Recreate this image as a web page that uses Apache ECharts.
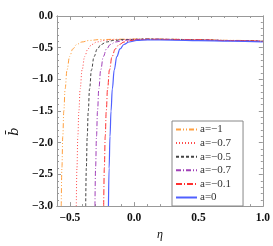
<!DOCTYPE html>
<html><head><meta charset="utf-8">
<script src="https://cdn.jsdelivr.net/npm/echarts@6/dist/echarts.min.js"></script>
<style>html,body{margin:0;padding:0;background:#fff}#c{width:273px;height:246px}</style>
</head><body><div id="c"></div>
<script>
var seriesNames = ['a=\u22121', 'a=\u22120.7', 'a=\u22120.5', 'a=\u22120.7', 'a=\u22120.1', 'a=0'];
var dataA1 = [[-0.567,-3.0],[-0.562,-2.4],[-0.555,-1.9],[-0.547,-1.5],[-0.537,-1.15],[-0.522,-0.85],[-0.502,-0.64],[-0.477,-0.52],[-0.447,-0.45],[-0.407,-0.41],[-0.347,-0.385],[-0.267,-0.372],[-0.1,-0.366],[0.1,-0.362],[0.3,-0.367],[0.5,-0.374],[0.75,-0.384],[1.0,-0.395]];
var dataA2 = [[-0.450,-3.0],[-0.445,-2.4],[-0.438,-1.9],[-0.430,-1.5],[-0.420,-1.15],[-0.405,-0.85],[-0.385,-0.64],[-0.360,-0.52],[-0.330,-0.45],[-0.290,-0.41],[-0.230,-0.385],[-0.150,-0.372],[0.1,-0.363],[0.3,-0.368],[0.5,-0.375],[0.75,-0.386],[1.0,-0.397]];
var dataA3 = [[-0.377,-3.0],[-0.372,-2.4],[-0.365,-1.9],[-0.357,-1.5],[-0.347,-1.15],[-0.332,-0.85],[-0.312,-0.64],[-0.287,-0.52],[-0.257,-0.45],[-0.217,-0.41],[-0.157,-0.385],[-0.077,-0.372],[0.1,-0.364],[0.3,-0.369],[0.5,-0.376],[0.75,-0.387],[1.0,-0.398]];
var dataA4 = [[-0.305,-3.0],[-0.300,-2.4],[-0.293,-1.9],[-0.285,-1.5],[-0.275,-1.15],[-0.260,-0.85],[-0.240,-0.64],[-0.215,-0.52],[-0.185,-0.45],[-0.145,-0.41],[-0.085,-0.385],[-0.005,-0.372],[0.15,-0.366],[0.3,-0.370],[0.5,-0.377],[0.75,-0.388],[1.0,-0.400]];
var dataA5 = [[-0.237,-3.0],[-0.232,-2.4],[-0.225,-1.9],[-0.217,-1.5],[-0.207,-1.15],[-0.192,-0.85],[-0.172,-0.64],[-0.147,-0.52],[-0.117,-0.45],[-0.077,-0.41],[-0.017,-0.385],[0.063,-0.373],[0.2,-0.369],[0.35,-0.373],[0.5,-0.378],[0.75,-0.389],[1.0,-0.401]];
var dataA6 = [[-0.200,-3.0],[-0.195,-2.4],[-0.188,-1.9],[-0.180,-1.5],[-0.170,-1.15],[-0.155,-0.85],[-0.135,-0.64],[-0.110,-0.52],[-0.080,-0.45],[-0.040,-0.41],[0.020,-0.387],[0.100,-0.377],[0.3,-0.380],[0.5,-0.388],[0.75,-0.398],[1.0,-0.410]];
var xTickLabels = [-0.5, 0.0, 0.5, 1.0];
var xMinorTicks = [-0.6,-0.4,-0.3,-0.2,-0.1,0.1,0.2,0.3,0.4,0.6,0.7,0.8,0.9];
var yTickLabels = [0.0, -0.5, -1.0, -1.5, -2.0, -2.5, -3.0];
var yMinorTicks = [-0.1,-0.2,-0.3,-0.4,-0.6,-0.7,-0.8,-0.9,-1.1,-1.2,-1.3,-1.4,-1.6,-1.7,-1.8,-1.9,-2.1,-2.2,-2.3,-2.4,-2.6,-2.7,-2.8,-2.9];

var colors = ['#FFA040', '#FF4A4A', '#444444', '#A040B8', '#FF3030', '#5060FF'];
var dashes = [[5,2,1,2,1,2], [1,2], [3,2], [5,2,1,2], [6,2,1,2], 'solid'];
var allData = [dataA1, dataA2, dataA3, dataA4, dataA5, dataA6];
var ids = allData.map(function(d,i){ return 's' + i; });

function fmt(v){ var s = Math.abs(v).toFixed(1); return (v < 0 ? '\u2212' : '') + s; }
var tickFont = {fontFamily:'"Liberation Serif", serif', fontWeight:'bold', fontSize:11.5, color:'#111'};
var frameColor = '#999';
function mkX(pos, labels, minor, len){
  var ax = {type:'value', position:pos, min:-0.6, max:1.0, gridIndex:0,
    axisLine:{show:true, onZero:false, lineStyle:{color:frameColor}},
    axisTick:{show:true, inside:true, length:len, customValues: minor, lineStyle:{color:frameColor}},
    axisLabel: labels ? Object.assign({show:true, margin:6, customValues: xTickLabels, formatter: fmt}, tickFont) : {show:false},
    splitLine:{show:false}};
  if (labels) { ax.name = '\u03b7'; ax.nameLocation = 'middle'; ax.nameGap = 17;
    ax.nameTextStyle = {fontFamily:'"Liberation Serif", serif', fontStyle:'italic', fontSize:12, color:'#111'}; }
  return ax;
}
function mkY(pos, labels, minor, len){
  var ax = {type:'value', position:pos, min:-3.0, max:0.0, gridIndex:0,
    axisLine:{show:true, onZero:false, lineStyle:{color:frameColor}},
    axisTick:{show:true, inside:true, length:len, customValues: minor, lineStyle:{color:frameColor}},
    axisLabel: labels ? Object.assign({show:true, margin:4, customValues: yTickLabels, formatter: fmt}, tickFont) : {show:false},
    splitLine:{show:false}};
  if (labels) { ax.name = 'b\u0304\u00a0\u00a0\u00a0\u00a0\u00a0\u00a0\u00a0\u00a0\u00a0\u00a0'; ax.nameLocation = 'middle'; ax.nameGap = 36; ax.nameRotate = 90;
    ax.nameTextStyle = {fontFamily:'"DejaVu Serif", serif', fontStyle:'italic', fontSize:13, color:'#111'}; }
  return ax;
}
var xAxes = [mkX('bottom', true, xTickLabels, 4), mkX('bottom', false, xMinorTicks, 2), mkX('top', false, xTickLabels, 4), mkX('top', false, xMinorTicks, 2)];
var yAxes = [mkY('left', true, yTickLabels, 4), mkY('left', false, yMinorTicks, 2), mkY('right', false, yTickLabels, 4), mkY('right', false, yMinorTicks, 2)];

var series = allData.map(function(d, i){
  return {name: ids[i], type:'line', data: d, xAxisIndex:0, yAxisIndex:0,
    symbol:'none', smooth:0.4, smoothMonotone:'x', clip:true,
    lineStyle:{color: colors[i], width: i===5 ? 1.2 : 1, type: dashes[i]},
    itemStyle:{color: colors[i]}};
});

var chart = echarts.init(document.getElementById('c'), null, {renderer:'canvas'});
chart.setOption({
  animation:false,
  backgroundColor:'#fff',
  grid:{left:51, right:7, top:16, bottom:37, show:false},
  xAxis: xAxes,
  yAxis: yAxes,
  legend:{show:true, orient:'vertical', left:172, top:121, width:67,
    data: ids,
    formatter: function(n){ return seriesNames[ids.indexOf(n)]; },
    itemWidth:21, itemHeight:8, itemGap:2.6, padding:[3,12,3,3],
    itemStyle:{color:'rgba(0,0,0,0)', borderColor:'rgba(0,0,0,0)', borderWidth:0},
    borderColor:'#888', borderWidth:1, backgroundColor:'#fff',
    textStyle:{fontFamily:'"Liberation Serif", serif', fontSize:11, color:'#333', padding:[0,0,0,-2]}},
  series: series
});
</script>
</body></html>
